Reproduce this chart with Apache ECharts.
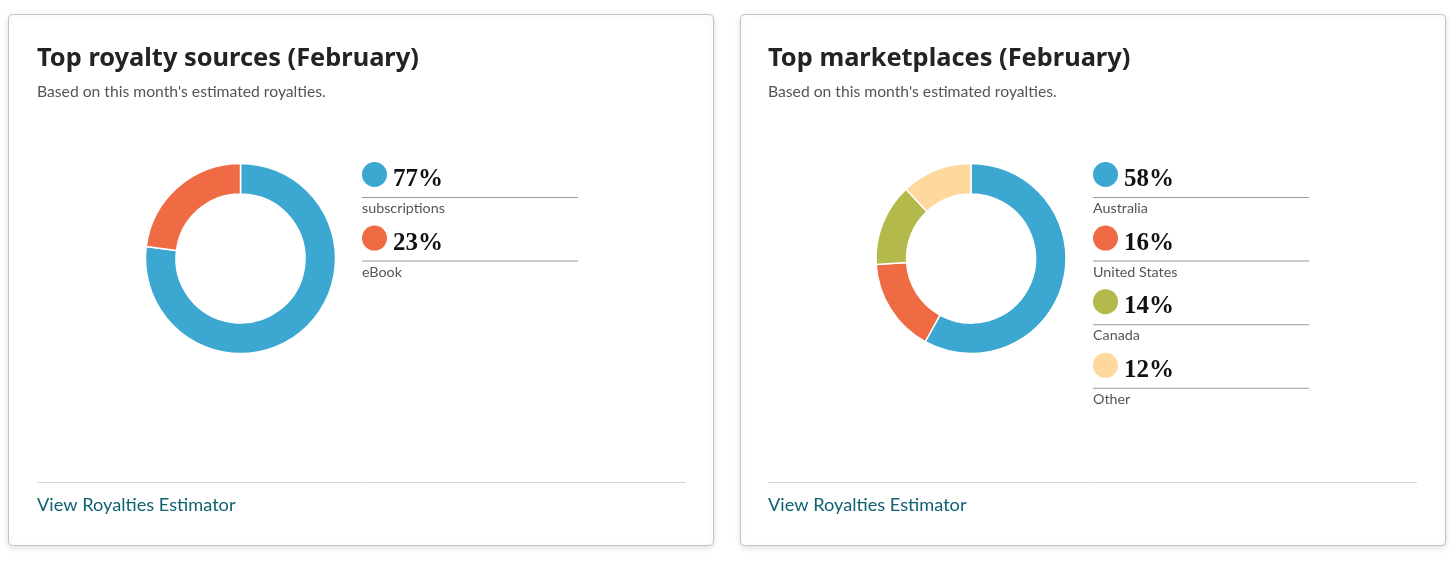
<!DOCTYPE html>
<html lang="en">
<head>
<meta charset="UTF-8">
<title>Top royalty sources and marketplaces</title>
<style>
  html, body { margin: 0; padding: 0; background: #fff; }
  #chart { width: 1456px; height: 561px; }
</style>
</head>
<body>
<div id="chart"></div>
<script src="https://cdn.jsdelivr.net/npm/echarts@6/dist/echarts.min.js"></script>
<script>
// data
const sourceNames = ['subscriptions', 'eBook'];
const sourceValues = [77, 23];
const marketNames = ['Australia', 'United States', 'Canada', 'Other'];
const marketValues = [58, 16, 14, 12];
const sliceColors = ['#3ca7d0', '#ee6b43', '#b3b94a', '#fed89d'];

const cardTitles = ['Top royalty sources (February)', 'Top marketplaces (February)'];
const cardSubtitle = "Based on this month's estimated royalties.";
const linkText = 'View Royalties Estimator';

const sansFont = 'Lato, "Noto Sans", sans-serif';
const titleFont = '"Noto Sans", Lato, sans-serif';
const serifFont = '"Liberation Serif", "DejaVu Serif", serif';

// name -> [percent, colour index]
const lookup = {};
sourceNames.forEach((n, i) => { lookup[n] = [sourceValues[i], i]; });
marketNames.forEach((n, i) => { lookup[n] = [marketValues[i], i]; });

const rich = {
  pct: { fontFamily: serifFont, fontWeight: 'bold', fontSize: 25, color: '#111', lineHeight: 35, padding: [0, 0, 0, 6] },
  rule: { width: 216, height: 1, lineHeight: 1, backgroundColor: '#9a9a9a' },
  name: { fontFamily: sansFont, fontSize: 14.3, color: '#555', lineHeight: 21 }
};
sliceColors.forEach((c, i) => {
  rich['dot' + i] = { width: 25, height: 25, borderRadius: 12.5, backgroundColor: c, verticalAlign: 'top' };
});

function legendLabel(name) {
  const [v, i] = lookup[name];
  return '{dot' + i + '|}{pct|' + v + '%}\n{rule|}\n{name|' + name + '}';
}

function toData(names, values) {
  return names.map((n, i) => ({ name: n, value: values[i], itemStyle: { color: sliceColors[i] } }));
}

// cards: left edge of each card and of its contents
const cardX = [8.5, 740.5];
const innerX = [37, 768];

const graphic = [];
cardX.forEach((x, k) => {
  graphic.push({
    type: 'rect', z: -10,
    shape: { x: x, y: 14.5, width: 705, height: 531, r: 4 },
    style: { fill: '#fff', stroke: '#c3c3c3', lineWidth: 1, shadowBlur: 7, shadowColor: 'rgba(0,0,0,0.13)', shadowOffsetY: 2 }
  });
  graphic.push({
    type: 'line', z: -5,
    shape: { x1: innerX[k], y1: 482.5, x2: innerX[k] + 649, y2: 482.5 },
    style: { stroke: '#d6d6d6', lineWidth: 1 }
  });
  graphic.push({
    type: 'text', z: 5,
    x: innerX[k], y: 505,
    style: { text: linkText, fontFamily: sansFont, fontSize: 18.2, fill: '#0f6170', verticalAlign: 'middle' }
  });
});

const pieBase = {
  type: 'pie',
  radius: [64.5, 95],
  startAngle: 90,
  clockwise: true,
  silent: true,
  label: { show: false },
  labelLine: { show: false },
  emphasis: { disabled: true },
  itemStyle: { borderColor: '#fff', borderWidth: 1.5 },
  animation: false
};

const legendBase = {
  orient: 'vertical',
  top: 162,
  itemWidth: 0,
  itemHeight: 0,
  icon: 'circle',
  itemGap: 10.1,
  padding: 0,
  selectedMode: false,
  formatter: legendLabel,
  textStyle: { rich: rich }
};

const option = {
  animation: false,
  graphic: graphic,
  title: cardTitles.map((t, k) => ({
    text: t,
    subtext: cardSubtitle,
    left: innerX[k],
    top: 46,
    padding: 0,
    itemGap: 12.5,
    textStyle: { fontFamily: titleFont, fontWeight: 'bold', fontSize: 25.4, color: '#232323' },
    subtextStyle: { fontFamily: sansFont, fontSize: 15.7, color: '#555' }
  })),
  legend: [
    Object.assign({}, legendBase, { left: 356, data: sourceNames }),
    Object.assign({}, legendBase, { left: 1087, data: marketNames })
  ],
  series: [
    Object.assign({}, pieBase, { name: 'sources', center: [240.5, 258.5], data: toData(sourceNames, sourceValues) }),
    Object.assign({}, pieBase, { name: 'marketplaces', center: [971, 258.5], data: toData(marketNames, marketValues) })
  ]
};

const chart = echarts.init(document.getElementById('chart'), null, { renderer: 'canvas' });
chart.setOption(option);
</script>
</body>
</html>
